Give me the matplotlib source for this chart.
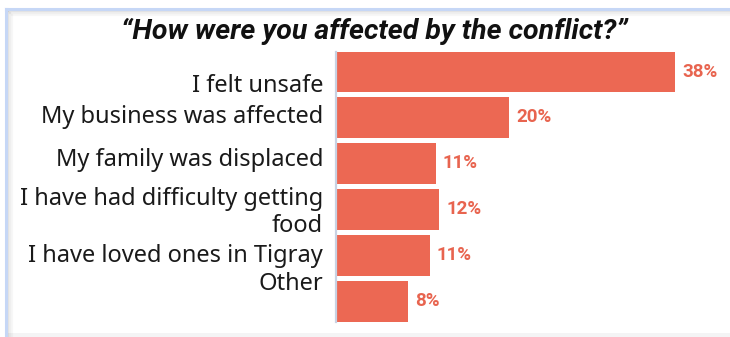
import matplotlib
matplotlib.use("Agg")
import matplotlib.pyplot as plt
from matplotlib.lines import Line2D
from matplotlib.patches import Rectangle
import matplotlib.transforms as mtransforms

categories = ["I felt unsafe", "My business was affected", "My family was displaced",
              "I have had difficulty getting\nfood", "I have loved ones in Tigray", "Other"]
values = [38.0, 19.4, 11.2, 11.6, 10.5, 8.1]
value_labels = ["38%", "20%", "11%", "12%", "11%", "8%"]
title = "\u201cHow were you affected by the conflict?\u201d"

BAR = "#EC6853"
LBL = "#E8644F"
W, H = 730, 337
fig = plt.figure(figsize=(W / 100, H / 100), dpi=100)
fig.patch.set_facecolor("white")

def px(x0, y0, x1, y1):
    return [x0 / W, 1 - y1 / H, (x1 - x0) / W, (y1 - y0) / H]

ax = fig.add_axes(px(336, 52, 720, 322))
ax.barh(range(len(values)), values, height=0.91, color=BAR, zorder=2)
ax.set_xlim(0, 384 / 8.92)
ax.set_ylim(5.446, -0.424)
for s in ["top", "right", "bottom"]:
    ax.spines[s].set_visible(False)
ax.spines["left"].set_color("#c9d2e3")
ax.spines["left"].set_linewidth(1.6)
ax.set_xticks([])
ax.set_yticks([])
ax.patch.set_alpha(0)

# value labels
for i, (v, t) in enumerate(zip(values, value_labels)):
    ax.annotate(t, (v, i), xytext=(5, 0), textcoords="offset points",
                ha="left", va="center", fontsize=13.5, fontweight="bold",
                color=LBL, family="Roboto")

# category labels (baseline of last line, relative to bar index)
label_baseline = [0.439, 1.126, 2.05, 3.48, 4.135, 4.75]
trans = mtransforms.offset_copy(ax.get_yaxis_transform(), fig=fig, x=-13, y=0, units="dots")
for lab, yb in zip(categories, label_baseline):
    ax.text(0, yb, lab, transform=trans, ha="right", va="baseline",
            fontsize=17, color="#1a1a1a", family="Noto Sans",
            multialignment="right", linespacing=1.13)

fig.text(374 / W, 1 - 31 / H, title, ha="center", va="center", fontsize=20.5,
         fontweight="bold", fontstyle="italic", family="Roboto", color="#111111")

# frame decorations
for k, a in enumerate([0.10, 0.06, 0.03]):
    fig.add_artist(Line2D([(8 + k * 2) / W, 1], [1 - (11 + k * 2) / H] * 2,
                          color="#000000", alpha=a, lw=1.6))
    fig.add_artist(Line2D([(8 + k * 2) / W] * 2, [0, 1 - (11 + k * 2) / H],
                          color="#000000", alpha=a, lw=1.6))
fig.add_artist(Line2D([6 / W, 1], [1 - 9 / H] * 2, color="#c6d7f6", lw=2.2))
fig.add_artist(Line2D([6 / W] * 2, [0, 1 - 9 / H], color="#c6d7f6", lw=2.2))
fig.add_artist(Rectangle((7 / W, 0), 1, 4 / H, transform=fig.transFigure,
                         color="#f4f4f5", lw=0))

fig.savefig("out.png", dpi=100, facecolor="white")
